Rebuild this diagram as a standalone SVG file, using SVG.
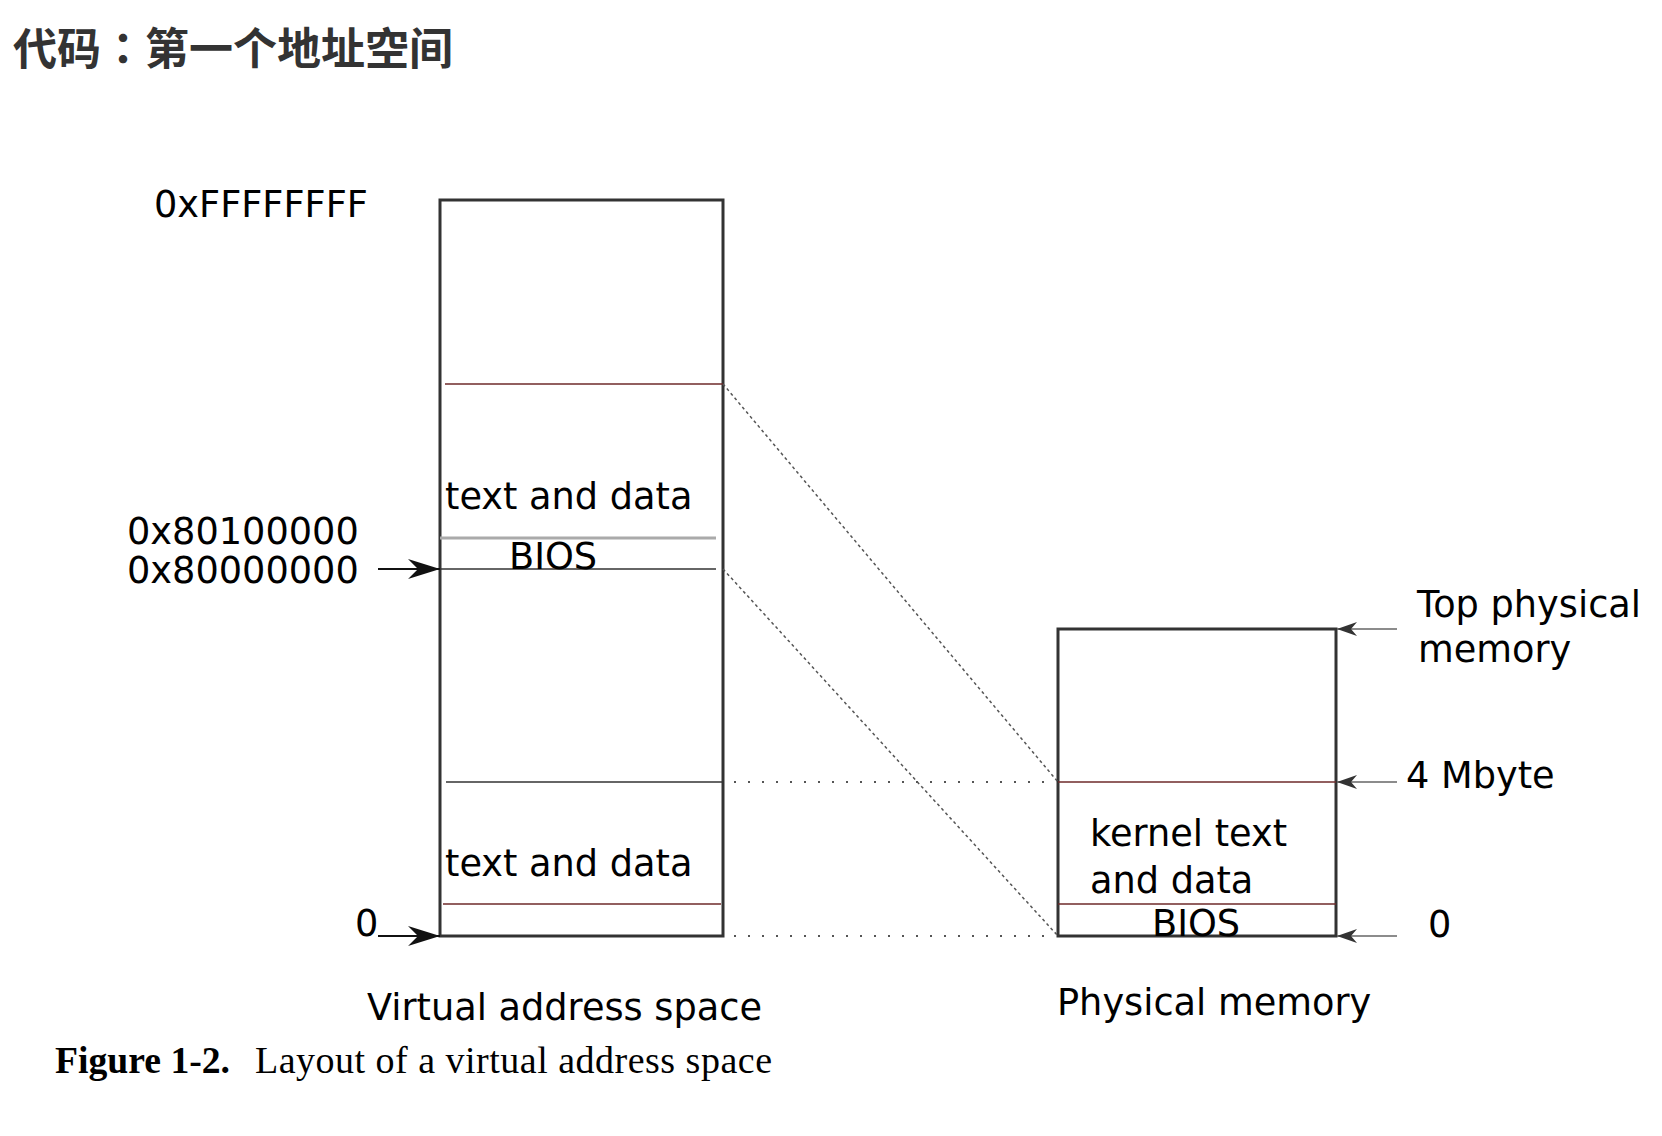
<svg xmlns="http://www.w3.org/2000/svg" width="1662" height="1136" viewBox="0 0 1662 1136">
<style>
.t{font-family:"DejaVu Sans",Verdana,sans-serif;font-size:36.7px;fill:#000}
.box{fill:none;stroke:#333;stroke-width:3}
.sep{stroke:#333;stroke-width:1.5}
.red{stroke:#6e2a2a;stroke-width:1.5}
.gray{stroke:#aaa;stroke-width:3}
.dash{stroke:#555;stroke-width:1.5;stroke-dasharray:3 3;fill:none}
.dot{stroke:#555;stroke-width:2;stroke-dasharray:2 12}
.arrL{stroke:#111;stroke-width:2}
.arrR{stroke:#666;stroke-width:1.5}
.cap{font-family:"Liberation Serif","Times New Roman",serif;font-size:38px;fill:#000}
</style>
<defs>
<marker id="ahBig" markerUnits="userSpaceOnUse" viewBox="0 0 32 22" markerWidth="32" markerHeight="22" refX="32" refY="11" orient="auto"><path d="M32,11 L0,1 L10,11 L0,21 Z" fill="#111"/></marker>
<marker id="ahSmall" markerUnits="userSpaceOnUse" viewBox="0 0 20 14" markerWidth="20" markerHeight="14" refX="20" refY="7" orient="auto"><path d="M20,7 L0,0 L6,7 L0,14 Z" fill="#333"/></marker>
</defs>
<rect width="1662" height="1136" fill="#fff"/>
<text id="title" x="13" y="65" font-family="'Noto Sans CJK TC','Noto Sans CJK SC',sans-serif" font-size="44" font-weight="700" fill="#333">代码：第一个地址空间</text>

<g id="virtual">
<rect class="box" x="440" y="200" width="283" height="736"/>
<line class="red" x1="445" y1="384" x2="723" y2="384"/>
<line class="gray" x1="440" y1="538" x2="716" y2="538"/>
<line class="sep" x1="440" y1="569" x2="716" y2="569"/>
<line class="sep" x1="446" y1="782" x2="723" y2="782"/>
<line class="red" x1="443" y1="904" x2="721" y2="904"/>
<text class="t" x="445" y="509">text and data</text>
<text class="t" x="509" y="569">BIOS</text>
<text class="t" x="445" y="876">text and data</text>
<text class="t" x="367" y="1020">Virtual address space</text>
</g>

<g id="virtual-labels">
<text class="t" x="154" y="217">0xFFFFFFFF</text>
<text class="t" x="127" y="544">0x80100000</text>
<text class="t" x="127" y="583">0x80000000</text>
<text class="t" x="355" y="936">0</text>
</g>

<g id="physical">
<rect class="box" x="1058" y="629" width="278" height="307"/>
<line class="red" x1="1058" y1="782" x2="1336" y2="782"/>
<line class="red" x1="1058" y1="904" x2="1336" y2="904"/>
<text class="t" x="1090" y="846">kernel text</text>
<text class="t" x="1090" y="893">and data</text>
<text class="t" x="1152" y="936">BIOS</text>
<text class="t" x="1057" y="1015">Physical memory</text>
</g>

<g id="physical-labels">
<text class="t" x="1417" y="617">Top physical</text>
<text class="t" x="1418" y="662">memory</text>
<text class="t" x="1406" y="788">4 Mbyte</text>
<text class="t" x="1428" y="937">0</text>
</g>

<g id="connectors">
<line class="arrL" x1="378" y1="569" x2="440" y2="569" marker-end="url(#ahBig)"/>
<line class="arrL" x1="378" y1="936" x2="440" y2="936" marker-end="url(#ahBig)"/>
<line class="arrR" x1="1397" y1="629" x2="1337" y2="629" marker-end="url(#ahSmall)"/>
<line class="arrR" x1="1397" y1="782" x2="1337" y2="782" marker-end="url(#ahSmall)"/>
<line class="arrR" x1="1397" y1="936" x2="1337" y2="936" marker-end="url(#ahSmall)"/>
<line class="dash" x1="723" y1="384" x2="1058" y2="782"/>
<line class="dash" x1="723" y1="569" x2="1058" y2="936"/>
<line class="dot" x1="734" y1="782" x2="1055" y2="782"/>
<line class="dot" x1="734" y1="936" x2="1055" y2="936"/>
</g>

<g id="caption">
<text class="cap" x="55" y="1073" font-weight="700" textLength="175" lengthAdjust="spacingAndGlyphs">Figure 1-2.</text>
<text class="cap" x="255" y="1073" textLength="517" lengthAdjust="spacing">Layout of a virtual address space</text>
</g>
</svg>
